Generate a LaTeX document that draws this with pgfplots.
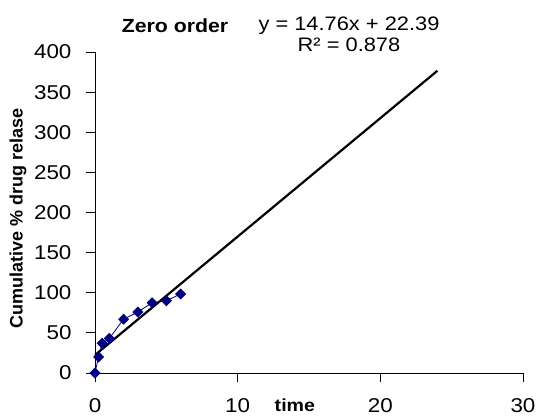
\documentclass[border=0pt]{standalone}
\usepackage{pgfplots}
\pgfplotsset{compat=1.18}
\usepackage{fontspec}
\setmainfont{Liberation Sans}[FakeStretch=1.12]
\newfontfamily\plainsans{Liberation Sans}
\definecolor{navyb}{HTML}{000080}
\begin{document}
\begin{tikzpicture}
\path[use as bounding box] (0,0) rectangle (536pt,416pt);
\begin{axis}[
  at={(95pt,43pt)}, anchor=south west,
  scale only axis, width=428pt, height=321pt,
  xmin=0, xmax=30, ymin=0, ymax=400,
  axis lines=left, axis line style={-, line width=0.9pt},
  xtick={0,10,20,30}, ytick={0,50,...,400},
  tick align=outside, major tick length=9pt,
  tick style={line width=0.8pt, black},
  /pgf/number format/assume math mode=true,
  tick label style={font=\fontsize{20}{24}\selectfont},
  xticklabel style={yshift=-13pt},
  yticklabel style={xshift=-11pt},
  xlabel={time},
  xlabel style={font=\bfseries\fontsize{17.5}{20}\selectfont, at={(axis description cs:0.467,0)}, anchor=base, yshift=-38pt},
  ylabel={\plainsans\bfseries Cumulative \% drug relase},
  ylabel style={font=\plainsans\bfseries\fontsize{18}{21}\selectfont, at={(axis description cs:-0.18,0.48)}, anchor=center},
  clip=false,
]
\addplot[navyb, line width=0.8pt, mark=square*, mark size=3.5pt, mark options={rotate=45, fill=navyb}]
  coordinates {(0,0) (0.25,20) (0.5,37) (1,43) (2,67) (3,76) (4,87.5) (5,90) (6,98.5)};
\addplot[black, line width=2.2pt] coordinates {(0,22.39) (24,376.63)};
\end{axis}
\node[anchor=base, font=\bfseries\fontsize{19}{22}\selectfont] at (175pt,383pt) {Zero order};
\node[anchor=base, font=\fontsize{19.5}{22}\selectfont] at (349pt,385pt) {y = 14.76x + 22.39};
\node[anchor=base, font=\fontsize{19.5}{22}\selectfont] at (349pt,364pt) {R² = 0.878};
\end{tikzpicture}
\end{document}
